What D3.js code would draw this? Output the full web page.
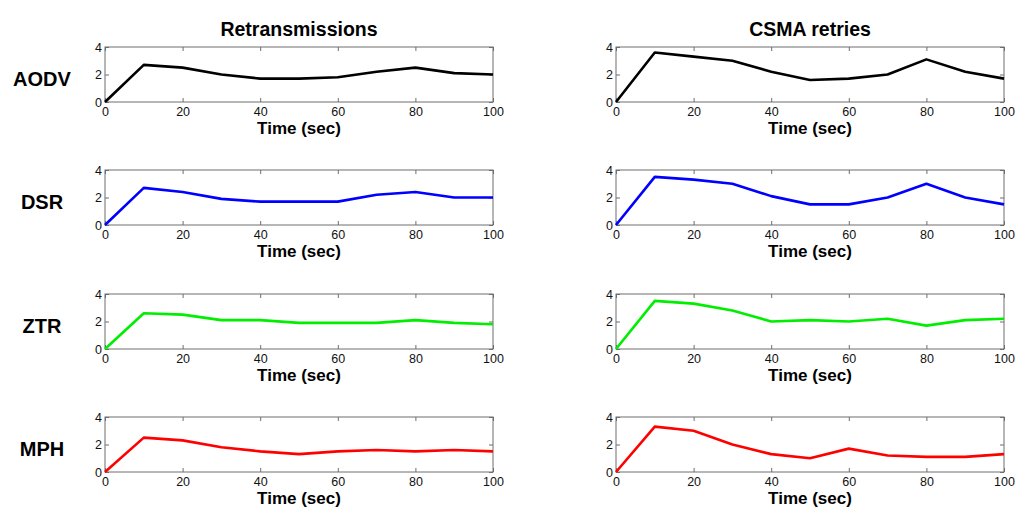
<!DOCTYPE html>
<meta charset="utf-8">
<script src="https://cdn.jsdelivr.net/npm/d3@7"></script>
<style>
	body{margin:0;background:#fff;font-family:"Liberation Sans",Arial,Helvetica,sans-serif;}
	.tick text{font-size:12.5px;fill:#111;}
	.xlabel{font-size:17px;font-weight:bold;}
	.title{font-size:19.5px;font-weight:bold;}
	.rowlabel{font-size:20px;font-weight:bold;}
</style>
<div id="chart"></div>
<script>
var time = [0,10,20,30,40,50,60,70,80,90,100]
var protocols = ["AODV","DSR","ZTR","MPH"]
var colors = ["#000000","#0000ff","#00ee00","#ff0000"]
var columns = ["Retransmissions","CSMA retries"]
var xTicks = [0,20,40,60,80,100]
var yTicks = [0,2,4]

var aodvRetrans = [0,2.7,2.5,2.0,1.7,1.7,1.8,2.2,2.5,2.1,2.0]
var aodvCsma    = [0,3.6,3.3,3.0,2.2,1.6,1.7,2.0,3.1,2.2,1.7]
var dsrRetrans  = [0,2.7,2.4,1.9,1.7,1.7,1.7,2.2,2.4,2.0,2.0]
var dsrCsma     = [0,3.5,3.3,3.0,2.1,1.5,1.5,2.0,3.0,2.0,1.5]
var ztrRetrans  = [0,2.6,2.5,2.1,2.1,1.9,1.9,1.9,2.1,1.9,1.8]
var ztrCsma     = [0,3.5,3.3,2.8,2.0,2.1,2.0,2.2,1.7,2.1,2.2]
var mphRetrans  = [0,2.5,2.3,1.8,1.5,1.3,1.5,1.6,1.5,1.6,1.5]
var mphCsma     = [0,3.3,3.0,2.0,1.3,1.0,1.7,1.2,1.1,1.1,1.3]

var series = [[aodvRetrans,aodvCsma],[dsrRetrans,dsrCsma],[ztrRetrans,ztrCsma],[mphRetrans,mphCsma]]

var width = 1024
var height = 520
var colLeft = [105,616]
var plotW = 388
var rowTop = [47,170,294,417]
var plotH = 55

var svg = d3.select("#chart").append("svg")
	.attr("width",width).attr("height",height)

// column titles
columns.forEach(function(c,j){
	svg.append("text").attr("class","title")
		.attr("x",colLeft[j]+plotW/2).attr("y",36)
		.attr("text-anchor","middle").text(c)
})

protocols.forEach(function(p,i){
	svg.append("text").attr("class","rowlabel")
		.attr("x",42).attr("y",rowTop[i]+plotH/2+11)
		.attr("text-anchor","middle").text(p)

	for(var j=0;j<2;j++){
		var g = svg.append("g").attr("transform","translate("+colLeft[j]+","+rowTop[i]+")")
		var x = d3.scaleLinear().domain([0,100]).range([0,plotW])
		var y = d3.scaleLinear().domain([0,4]).range([plotH,0])

		g.append("rect").attr("width",plotW).attr("height",plotH)
			.attr("fill","none").attr("stroke","#6e6e6e").attr("stroke-width",1)

		var xa = g.append("g").attr("transform","translate(0,"+plotH+")")
			.call(d3.axisBottom(x).tickValues(xTicks).tickSizeInner(-4).tickSizeOuter(0).tickPadding(3))
		var xt = g.append("g")
			.call(d3.axisTop(x).tickValues(xTicks).tickSizeInner(-4).tickSizeOuter(0).tickFormat(""))
		var ya = g.append("g")
			.call(d3.axisLeft(y).tickValues(yTicks).tickSizeInner(-4).tickSizeOuter(0).tickPadding(3).tickFormat(d3.format("d")))
		var yr = g.append("g").attr("transform","translate("+plotW+",0)")
			.call(d3.axisRight(y).tickValues(yTicks).tickSizeInner(-4).tickSizeOuter(0).tickFormat(""))
		;[xa,xt,ya,yr].forEach(function(a){
			a.select(".domain").remove()
			a.selectAll("line").attr("stroke","#6e6e6e")
		})
		xa.selectAll("text").attr("dy","0.9em")

		g.append("text").attr("class","xlabel")
			.attr("x",plotW/2).attr("y",plotH+32)
			.attr("text-anchor","middle").text("Time (sec)")

		var line = d3.line()
			.x(function(d,k){return x(time[k])})
			.y(function(d){return y(d)})
		g.append("path").datum(series[i][j])
			.attr("d",line).attr("fill","none")
			.attr("stroke",colors[i]).attr("stroke-width",2.6)
			.attr("stroke-linejoin","round")
	}
})
</script>
